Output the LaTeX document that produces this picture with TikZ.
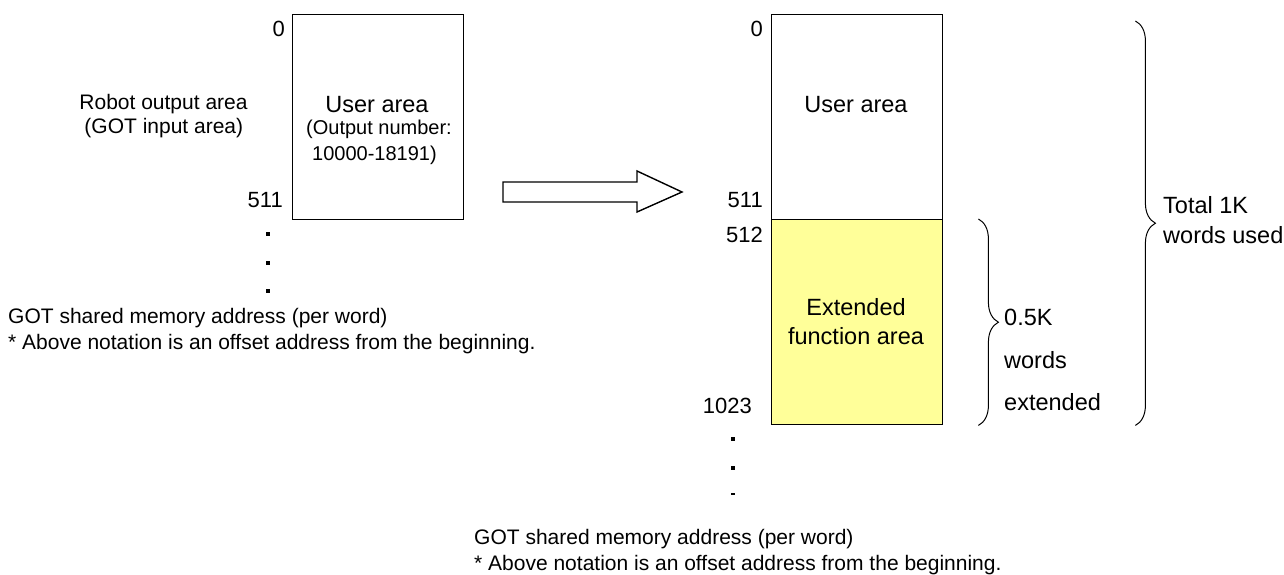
\documentclass[tikz,border=0pt]{standalone}
\usepackage{fontspec}
\setmainfont{Liberation Sans}
\usetikzlibrary{decorations.pathreplacing}
\definecolor{extyellow}{HTML}{FFFF99}

\begin{document}
\begin{tikzpicture}[x=1pt, y=-1pt,
    membox/.style={draw, line width=1.4pt, minimum width=171pt, minimum height=205pt, anchor=north west, inner sep=0pt},
    lbl/.style={inner sep=0pt, anchor=base east, font=\fontsize{22}{26}\selectfont},
    areatxt/.style={inner sep=0pt, anchor=base, font=\fontsize{23.5}{28}\selectfont},
    numtxt/.style={inner sep=0pt, anchor=base, font=\fontsize{20}{24}\selectfont},
    note/.style={inner sep=0pt, anchor=base west, font=\fontsize{21}{26}\selectfont},
    bracepath/.style={decorate, decoration={brace, amplitude=20pt}, line width=1pt},
    dotmark/.style={fill, minimum size=4pt, inner sep=0pt}]
  \useasboundingbox (0,0) rectangle (1284,575);

  % before: robot output area
  \node[note, anchor=base] (robot1) at (163.5,109.3) {Robot output area};
  \node[note, anchor=base] (robot2) at (163.8,133) {(GOT input area)};
  \node[membox] (userL) at (292,14) {};
  \node[areatxt] (userLtxt) at (377,112.7) {User area};
  \node[numtxt] (outnum1) at (379,135) {(Output number:};
  \node[numtxt] (outnum2) at (374.5,160.7) {10000-18191)};
  \node[lbl] (adrL0) at (285,36.7) {0};
  \node[lbl] (adrL511) at (283,207) {511};
  \foreach \y in {234,263,291}
    \node[dotmark] (dotL-\y) at (268,\y) {};
  \node[note] (noteL1) at (8,323) {GOT shared memory address (per word)};
  \node[note] (noteL2) at (8,349) {* Above notation is an offset address from the beginning.};

  % block arrow
  \draw[line width=1.4pt, line join=miter]
    (503,182) -- (637,182) -- (637,171) -- (682,192) -- (637,212) -- (637,202) -- (503,202) -- cycle;

  % after: extended area
  \node[membox] (userR) at (771,14) {};
  \node[membox, fill=extyellow] (extR) at (771,219) {};
  \node[areatxt] (userRtxt) at (856,112.7) {User area};
  \node[areatxt] (ext1) at (856,315) {Extended};
  \node[areatxt] (ext2) at (856,344) {function area};
  \node[lbl] (adrR0) at (763,36.7) {0};
  \node[lbl] (adrR511) at (763,207) {511};
  \node[lbl] (adrR512) at (763,242) {512};
  \node[lbl] (adrR1023) at (752,413) {1023};
  \foreach \y in {439,468}
    \node[dotmark] (dotR-\y) at (733,\y) {};
  \node[fill, minimum width=4pt, minimum height=1.5pt, inner sep=0pt] (dotR-494) at (733,494) {};

  % braces
  \draw[bracepath] ([xshift=35pt]extR.north east) -- ([xshift=35pt]extR.south east);
  \draw[bracepath] ([xshift=192pt, yshift=-7pt]userR.north east) -- ([xshift=192pt]extR.south east);
  \node[areatxt, anchor=base west] (half1) at (1004,325) {0.5K};
  \node[areatxt, anchor=base west] (half2) at (1004,368) {words};
  \node[areatxt, anchor=base west] (half3) at (1004,410) {extended};
  \node[areatxt, anchor=base west] (total1) at (1163,213) {Total 1K};
  \node[areatxt, anchor=base west] (total2) at (1163,243) {words used};

  \node[note] (noteR1) at (474,544) {GOT shared memory address (per word)};
  \node[note] (noteR2) at (474,570) {* Above notation is an offset address from the beginning.};
\end{tikzpicture}
\end{document}
